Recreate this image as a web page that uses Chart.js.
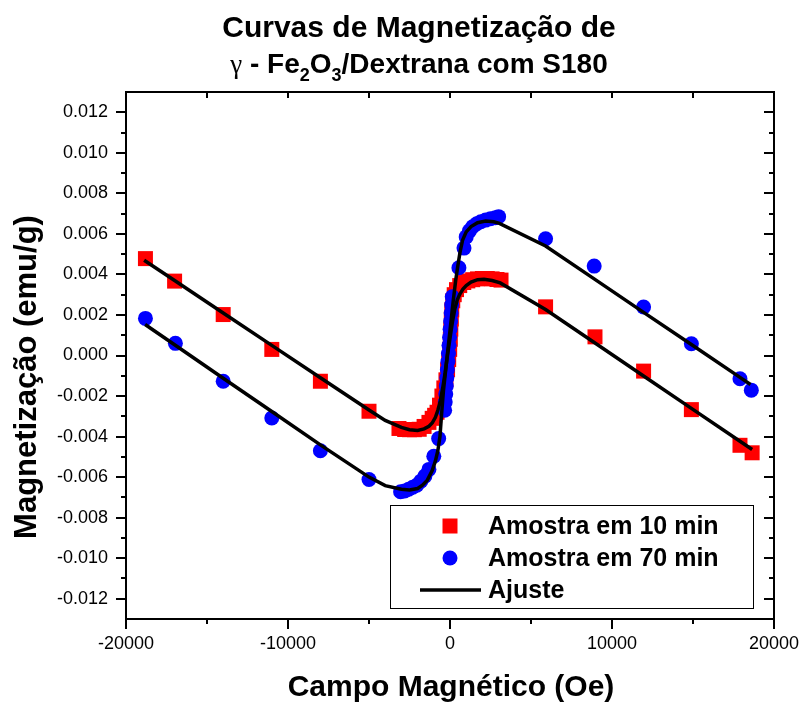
<!DOCTYPE html>
<html><head><meta charset="utf-8">
<script src="https://cdn.jsdelivr.net/npm/chart.js@4.4.0/dist/chart.umd.min.js"></script>
<style>html,body{margin:0;padding:0;background:#fff}canvas{display:block}</style>
</head><body>
<canvas id="c" width="803" height="702"></canvas>
<script>
// ---- data ----
const campo10 = [-18800,-17000,-14000,-11000,-8000,-5000,-3150,-2800,-2500,-2200,-1900,-1600,-1300,-1100,-950,-800,-650,-500,-380,-250,-150,-80,-20,20,50,80,110,170,260,400,600,850,1100,1400,1700,2000,2300,2600,2900,3150,5900,8950,11950,14900,17900,18650];
const mag10   = [0.00478,0.00367,0.00202,0.00030,-0.00127,-0.00275,-0.00360,-0.00365,-0.00366,-0.00366,-0.00364,-0.00350,-0.00330,-0.00310,-0.00295,-0.00280,-0.00245,-0.00200,-0.00160,-0.00120,-0.00070,-0.00020,0.00030,0.00080,0.00130,0.00180,0.00225,0.00270,0.00300,0.00325,0.00345,0.00360,0.00368,0.00374,0.00378,0.00380,0.00380,0.00378,0.00375,0.00372,0.00240,0.00092,-0.00077,-0.00267,-0.00443,-0.00480];

const campo70 = [-18800,-16950,-14000,-11000,-8000,-5000,-3050,-2800,-2550,-2300,-2050,-1800,-1550,-1300,-1000,-700,-330,-296,-263,-229,-196,-162,-129,-95,-62,-28,5,39,72,106,140,550,864,1000,1200,1400,1650,1900,2200,2500,2800,3000,5900,8900,11950,14900,17900,18600];
const mag70   = [0.00183,0.00060,-0.00127,-0.00308,-0.00470,-0.00612,-0.00672,-0.00668,-0.00660,-0.00650,-0.00640,-0.00620,-0.00595,-0.00562,-0.00497,-0.00410,-0.00270,-0.00230,-0.00190,-0.00150,-0.00110,-0.00070,-0.00030,0.00010,0.00050,0.00090,0.00130,0.00170,0.00210,0.00250,0.00290,0.00433,0.00530,0.00585,0.00615,0.00635,0.00650,0.00660,0.00668,0.00675,0.00680,0.00685,0.00576,0.00441,0.00239,0.00058,-0.00115,-0.00171];

const campoAjuste10 = [-18880,-17000,-14000,-11000,-8000,-5000,-4000,-3000,-2500,-2000,-1600,-1300,-1100,-900,-750,-600,-450,-300,-150,0,150,300,450,600,800,1000,1300,1700,2100,2600,3100,5900,8950,11950,14900,17900,18650];
const ajuste10      = [0.00470,0.00370,0.00210,0.00050,-0.00110,-0.00269,-0.00320,-0.00355,-0.00366,-0.00370,-0.00362,-0.00349,-0.00333,-0.00305,-0.00270,-0.00225,-0.00160,-0.00085,0.00005,0.00085,0.00165,0.00230,0.00275,0.00302,0.00328,0.00345,0.00362,0.00374,0.00376,0.00370,0.00358,0.00227,0.00062,-0.00101,-0.00261,-0.00423,-0.00464];

const campoAjuste70 = [-18820,-17000,-14000,-11000,-8000,-5000,-4000,-3000,-2500,-2000,-1700,-1400,-1100,-900,-750,-620,-520,-400,-250,-100,50,200,350,480,620,780,1000,1300,1700,2200,2700,3050,5900,8900,11950,14900,17900,18550];
const ajuste70      = [0.00153,0.00053,-0.00112,-0.00276,-0.00441,-0.00600,-0.00642,-0.00660,-0.00663,-0.00656,-0.00640,-0.00615,-0.00568,-0.00520,-0.00470,-0.00400,-0.00290,-0.00170,-0.00060,0.00050,0.00160,0.00270,0.00370,0.00440,0.00510,0.00570,0.00610,0.00636,0.00655,0.00663,0.00660,0.00652,0.00540,0.00378,0.00213,0.00054,-0.00108,-0.00143];

const xTicks = [-20000,-10000,0,10000,20000];
const yTicks = [-0.012,-0.010,-0.008,-0.006,-0.004,-0.002,0,0.002,0.004,0.006,0.008,0.010,0.012];
const xMinor = [-15000,-5000,5000,15000];
const yMinor = [-0.011,-0.009,-0.007,-0.005,-0.003,-0.001,0.001,0.003,0.005,0.007,0.009,0.011];

const titleLine1 = 'Curvas de Magnetização de';
const titleLine2 = [['γ','g'],[' - Fe','b'],['2','s'],['O','b'],['3','s'],['/Dextrana com S180','b']];
const xTitle = 'Campo Magnético (Oe)';
const yTitle = 'Magnetização (emu/g)';
const legendLabels = ['Amostra em 10 min','Amostra em 70 min','Ajuste'];

const FF = '"Liberation Sans", Arial, Helvetica, sans-serif';
function pts(xs, ys){ return xs.map((x,i)=>({x:x, y:ys[i]})); }

const decor = {
  id:'decor',
  afterDraw(chart){
    const ctx = chart.ctx, a = chart.chartArea;
    const xs = chart.scales.x, ys = chart.scales.y;
    ctx.save();
    ctx.strokeStyle = '#000'; ctx.lineWidth = 2;
    ctx.strokeRect(a.left, a.top, a.right - a.left, a.bottom - a.top);
    ctx.beginPath();
    const tick = (x1,y1,x2,y2)=>{ctx.moveTo(x1,y1);ctx.lineTo(x2,y2);};
    yTicks.forEach(v=>{const p=Math.round(ys.getPixelForValue(v)); tick(a.left-10,p,a.left,p); tick(a.right,p,a.right-10,p);});
    yMinor.forEach(v=>{const p=Math.round(ys.getPixelForValue(v)); tick(a.left-5,p,a.left,p); tick(a.right,p,a.right-5,p);});
    xTicks.forEach(v=>{const p=Math.round(xs.getPixelForValue(v)); tick(p,a.bottom,p,a.bottom+10); tick(p,a.top,p,a.top+6);});
    xMinor.forEach(v=>{const p=Math.round(xs.getPixelForValue(v)); tick(p,a.bottom,p,a.bottom+5); tick(p,a.top,p,a.top+6);});
    ctx.stroke();

    // titles
    ctx.fillStyle = '#000';
    ctx.textBaseline = 'alphabetic';
    ctx.textAlign = 'center';
    ctx.font = 'bold 30px ' + FF;
    ctx.fillText(titleLine1, 419, 37);
    const fonts = {g:'normal 27px "Liberation Serif", serif', b:'bold 28px ' + FF, s:'bold 18px ' + FF};
    let total = 0;
    titleLine2.forEach(s=>{ctx.font = fonts[s[1]]; total += ctx.measureText(s[0]).width;});
    let x = 419 - total/2;
    ctx.textAlign = 'left';
    titleLine2.forEach(s=>{ctx.font = fonts[s[1]]; ctx.fillText(s[0], x, 73 + (s[1]==='s'?8:0)); x += ctx.measureText(s[0]).width;});

    ctx.textAlign = 'center';
    ctx.font = 'bold 30px ' + FF;
    ctx.fillText(xTitle, 451, 696);
    ctx.save();
    ctx.translate(36, 377); ctx.rotate(-Math.PI/2);
    ctx.font = 'bold 31px ' + FF;
    ctx.fillText(yTitle, 0, 0);
    ctx.restore();

    // legend
    const lx = 390, ly = 505, lw = 363, lh = 103;
    ctx.fillStyle = '#fff'; ctx.fillRect(lx, ly, lw, lh);
    ctx.lineWidth = 1; ctx.strokeStyle = '#000';
    ctx.strokeRect(lx+0.5, ly+0.5, lw, lh);
    const rows = [526, 558, 590];
    ctx.fillStyle = '#ff0000'; ctx.fillRect(450-7.5, rows[0]-7.5, 15, 15);
    ctx.fillStyle = '#0000ff'; ctx.beginPath(); ctx.arc(450, rows[1], 7.5, 0, Math.PI*2); ctx.fill();
    ctx.strokeStyle = '#000'; ctx.lineWidth = 3.5; ctx.beginPath(); ctx.moveTo(420, rows[2]); ctx.lineTo(481, rows[2]); ctx.stroke();
    ctx.fillStyle = '#000'; ctx.font = 'bold 25px ' + FF; ctx.textAlign = 'left'; ctx.textBaseline = 'middle';
    legendLabels.forEach((t,i)=>ctx.fillText(t, 488, rows[i]+1));
    ctx.restore();
  }
};

new Chart(document.getElementById('c'), {
  type:'scatter',
  data:{datasets:[
    {label:legendLabels[2], data:pts(campoAjuste10, ajuste10), showLine:true, borderColor:'#000', borderWidth:3.5, pointRadius:0, fill:false, order:0},
    {label:legendLabels[2], data:pts(campoAjuste70, ajuste70), showLine:true, borderColor:'#000', borderWidth:3.5, pointRadius:0, fill:false, order:1},
    {label:legendLabels[1], data:pts(campo70, mag70), pointStyle:'circle', pointRadius:7.5, backgroundColor:'#0000ff', borderColor:'#0000ff', borderWidth:0, order:2},
    {label:legendLabels[0], data:pts(campo10, mag10), pointStyle:'rect', pointRadius:10.6, backgroundColor:'#ff0000', borderColor:'#ff0000', borderWidth:0, order:3}
  ]},
  options:{
    responsive:false, animation:false, devicePixelRatio:1,
    layout:{padding:{top:92, right:29, left:0, bottom:0}},
    plugins:{legend:{display:false}, tooltip:{enabled:false}, title:{display:false}},
    scales:{
      x:{type:'linear', min:-20000, max:20000,
         afterFit:s=>{s.height = 83; s.paddingLeft = 0; s.paddingRight = 0;},
         afterBuildTicks:s=>{s.ticks = xTicks.map(v=>({value:v}));},
         grid:{display:false, drawTicks:false}, border:{display:false},
         ticks:{color:'#000', font:{family:FF, size:18}, padding:14, maxRotation:0, autoSkip:false, callback:v=>String(v)}},
      y:{type:'linear', min:-0.013, max:0.013,
         afterFit:s=>{s.width = 126; s.paddingTop = 0; s.paddingBottom = 0;},
         afterBuildTicks:s=>{s.ticks = yTicks.map(v=>({value:v}));},
         grid:{display:false, drawTicks:false}, border:{display:false},
         ticks:{color:'#000', font:{family:FF, size:18}, padding:18, autoSkip:false, callback:v=>Number(v).toFixed(3)}}
    }
  },
  plugins:[decor]
});
</script>
</body></html>
